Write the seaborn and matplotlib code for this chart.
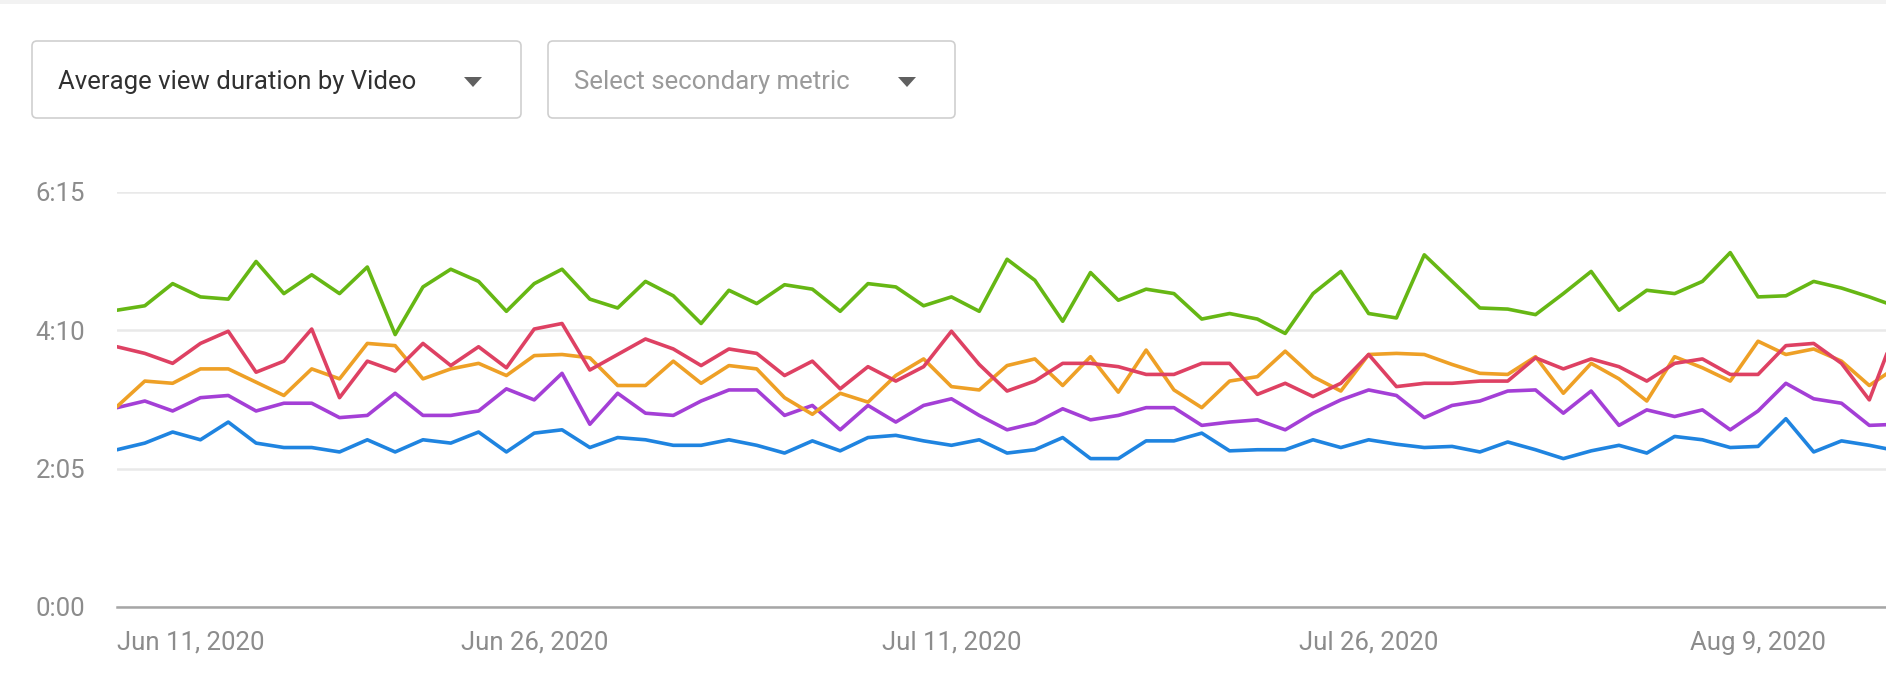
import pandas as pd
import matplotlib
matplotlib.use("Agg")
import matplotlib.pyplot as plt
from matplotlib.patches import FancyBboxPatch, Polygon
import seaborn as sns

# daily average view duration (seconds) per video, Jun 11 2020 onwards
start_date = "2020-06-11"
green = [268, 272, 292, 280, 278, 312, 283, 300, 283, 307, 246, 289, 305, 294, 267, 292,
         305, 278, 270, 294, 281, 256, 286, 274, 291, 287, 267, 292, 289, 272, 280, 267,
         314, 295, 258, 302, 277, 287, 283, 260, 265, 260, 247, 283, 303, 265, 261, 318,
         294, 270, 269, 264, 283, 303, 268, 286, 283, 294, 320, 280, 281, 294, 288, 280, 271]
red = [235, 229, 220, 238, 249, 212, 222, 251, 189, 222, 213, 238, 218, 235, 216, 251,
       256, 214, 228, 242, 233, 218, 233, 229, 209, 222, 197, 217, 204, 217, 249, 219,
       195, 204, 220, 220, 217, 210, 210, 220, 220, 192, 202, 190, 202, 228, 199, 202,
       202, 204, 204, 225, 215, 224, 217, 204, 220, 224, 210, 210, 236, 238, 220, 187, 253]
orange = [181, 204, 202, 215, 215, 203, 191, 215, 206, 238, 236, 206, 215, 220, 209, 227,
          228, 225, 200, 200, 222, 202, 218, 215, 189, 174, 193, 185, 209, 224, 199, 196,
          218, 224, 200, 226, 194, 232, 196, 180, 204, 208, 231, 208, 195, 228, 229, 228,
          219, 211, 210, 226, 193, 220, 206, 186, 226, 216, 204, 240, 228, 233, 222, 200, 217]
purple = [180, 186, 177, 189, 191, 177, 184, 184, 171, 173, 193, 173, 173, 177, 197, 187,
          211, 165, 193, 175, 173, 186, 196, 196, 173, 182, 160, 182, 167, 182, 188, 173,
          160, 166, 179, 169, 173, 180, 180, 164, 167, 169, 160, 175, 187, 196, 191, 171,
          182, 186, 195, 196, 175, 195, 164, 178, 172, 178, 160, 177, 202, 188, 184, 164, 165]
blue = [142, 148, 158, 151, 167, 148, 144, 144, 140, 151, 140, 151, 148, 158, 140, 157,
        160, 144, 153, 151, 146, 146, 151, 146, 139, 150, 141, 153, 155, 150, 146, 151,
        139, 142, 153, 134, 134, 150, 150, 157, 141, 142, 142, 151, 144, 151, 147, 144,
        145, 140, 149, 142, 134, 141, 146, 139, 154, 151, 144, 145, 170, 140, 150, 146, 141]

series = {"blue": blue, "purple": purple, "orange": orange, "red": red, "green": green}
palette = {"blue": "#1f84e0", "purple": "#a43fd6", "orange": "#eea026",
           "red": "#de4163", "green": "#66b714"}

tick_dates = ["2020-06-11", "2020-06-26", "2020-07-11", "2020-07-26", "2020-08-09"]
tick_labels = ["Jun 11, 2020", "Jun 26, 2020", "Jul 11, 2020", "Jul 26, 2020", "Aug 9, 2020"]
y_ticks = [0, 125, 250, 375]
y_labels = ["0:00", "2:05", "4:10", "6:15"]

dates = pd.date_range(start_date, periods=len(green), freq="D")
df = pd.concat([pd.DataFrame({"date": dates, "seconds": v, "video": k})
                for k, v in series.items()], ignore_index=True)

sns.set_style("white")
plt.rcParams["font.family"] = ["Roboto", "DejaVu Sans"]

W, H = 1886, 694
fig = plt.figure(figsize=(W / 100, H / 100), dpi=100)
ax = fig.add_axes([117 / W, 1 - 607 / H, 1 - 117 / W, (607 - 191.7) / H])

sns.lineplot(data=df, x="date", y="seconds", hue="video", palette=palette,
             linewidth=2.6, legend=False, ax=ax)

x0 = pd.Timestamp(start_date)
ax.set_xlim(x0, x0 + pd.Timedelta(days=63.6))
ax.set_ylim(0, 375)
ax.set_xlabel("")
ax.set_ylabel("")

ax.set_yticks(y_ticks)
ax.set_yticklabels(y_labels)
ax.set_xticks(pd.to_datetime(tick_dates))
ax.xaxis.set_major_formatter(plt.FixedFormatter(tick_labels))
ax.tick_params(axis="y", length=0, pad=23, labelsize=18.5, labelcolor="#8c8c8c")
ax.tick_params(axis="x", length=8, width=1.2, color="#dcdcdc", pad=9,
               labelsize=18.5, labelcolor="#8c8c8c")
ax.get_xticklabels()[0].set_ha("left")

ax.grid(axis="y", color="#e9e9e9", linewidth=1.8)
ax.set_axisbelow(True)
for side in ["top", "right", "left"]:
    ax.spines[side].set_visible(False)
ax.spines["bottom"].set_color("#a6a6a6")
ax.spines["bottom"].set_linewidth(1.8)

# dropdown controls on top
ui = fig.add_axes([0, 0, 1, 1], zorder=-1)
ui.set_xlim(0, W)
ui.set_ylim(H, 0)
ui.axis("off")
ui.axhspan(0, 4, color="#f2f2f2", lw=0)
for (bx0, bx1) in [(32, 521), (548, 955)]:
    ui.add_patch(FancyBboxPatch((bx0, 41), bx1 - bx0, 77,
                                boxstyle="round,pad=0,rounding_size=5",
                                fc="white", ec="#cfcfcf", lw=1.2))
ui.text(58, 82, "Average view duration by Video", fontsize=18.5, color="#303030",
        va="center", ha="left")
ui.text(574, 82, "Select secondary metric", fontsize=18.5, color="#9a9a9a",
        va="center", ha="left")
for cx in [473, 907]:
    ui.add_patch(Polygon([[cx - 9, 77], [cx + 9, 77], [cx, 87]], closed=True,
                         fc="#606060", ec="none"))

fig.savefig("out.png", dpi=100)
